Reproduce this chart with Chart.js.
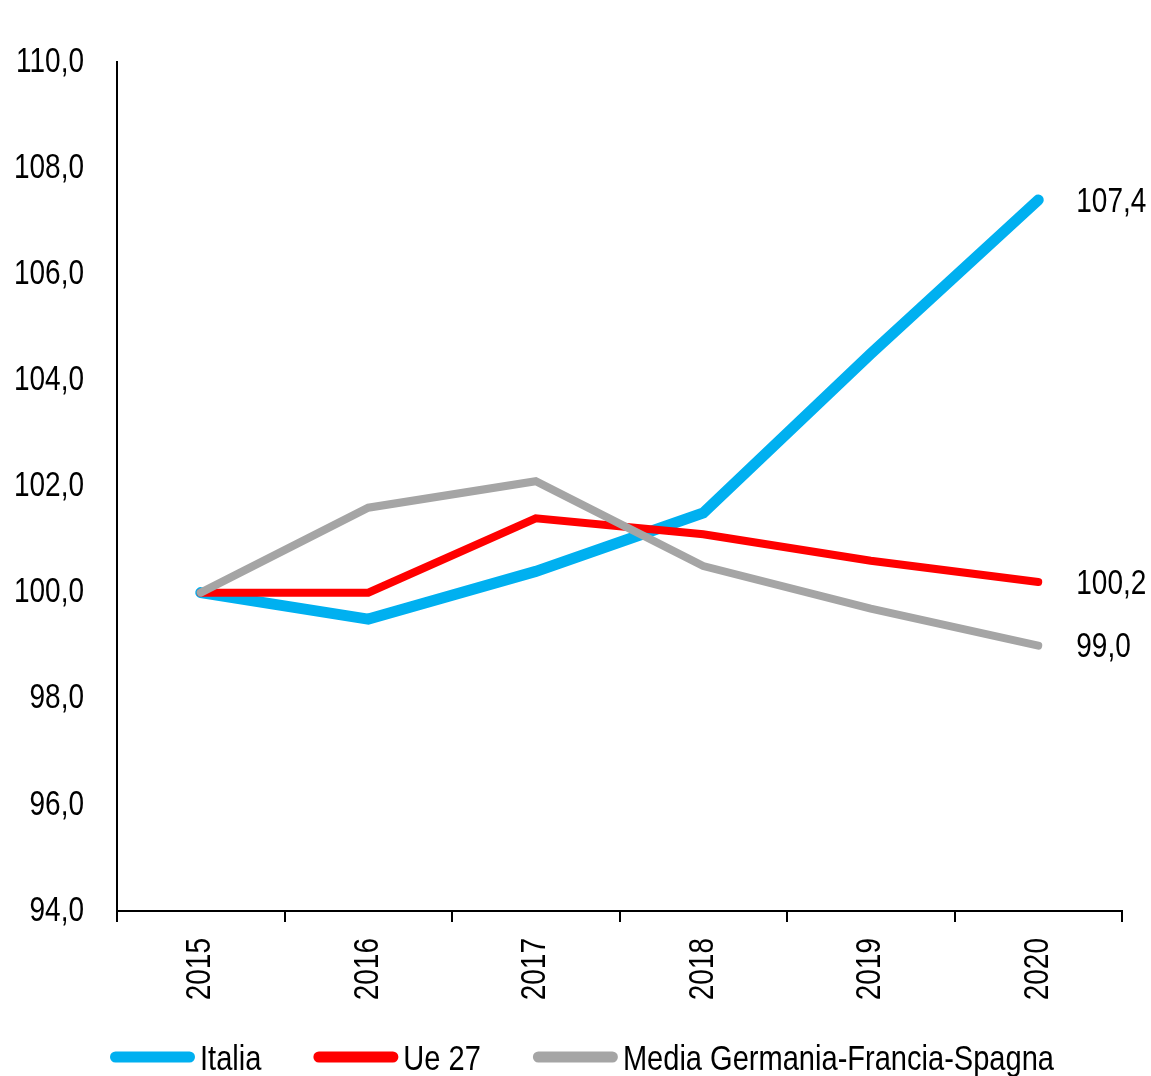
<!DOCTYPE html>
<html>
<head>
<meta charset="utf-8">
<script src="https://cdn.jsdelivr.net/npm/chart.js@4/dist/chart.umd.min.js"></script>
<style>
  html, body { margin: 0; padding: 0; background: #ffffff; }
  #wrap { position: relative; width: 1151px; height: 1076px; }
</style>
</head>
<body>
<div id="wrap"><canvas id="c" width="1151" height="1076"></canvas></div>
<script>
const years = ['2015', '2016', '2017', '2018', '2019', '2020'];
const italia = [100.0, 99.5, 100.4, 101.5, 104.5, 107.4];
const ue27 = [100.0, 100.0, 101.4, 101.1, 100.6, 100.2];
const mediaGFS = [100.0, 101.6, 102.1, 100.5, 99.7, 99.0];
const seriesNames = ['Italia', 'Ue 27', 'Media Germania-Francia-Spagna'];
const yMin = 94, yMax = 110, yStep = 2;

const FONT = "'Liberation Sans', Arial, sans-serif";
const FS = 35;
const fmt = v => v.toFixed(1).replace('.', ',');

// Condensed look (Arial Narrow-like): compress text horizontally along its own baseline
const canvas = document.getElementById('c');
const ctx0 = canvas.getContext('2d');
let textSX = 0.8;
const origFill = ctx0.fillText.bind(ctx0);
ctx0.fillText = function (t, x, y, mw) {
  this.save();
  this.translate(x, y);
  this.scale(textSX, 1);
  if (mw === undefined) origFill(t, 0, 0); else origFill(t, 0, 0, mw / textSX);
  this.restore();
};

const endLabels = {
  id: 'endLabels',
  afterDatasetsDraw(chart) {
    const ctx = chart.ctx;
    ctx.save();
    ctx.font = FS + 'px ' + FONT;
    ctx.fillStyle = '#000';
    ctx.textAlign = 'left';
    ctx.textBaseline = 'middle';
    chart.data.datasets.forEach((ds, i) => {
      const meta = chart.getDatasetMeta(i);
      const last = meta.data[meta.data.length - 1];
      const v = ds.data[ds.data.length - 1];
      ctx.fillText(fmt(v), last.x + 38, last.y + 2);
    });
    ctx.restore();
  }
};

const customLegend = {
  id: 'customLegend',
  afterDraw(chart) {
    const ctx = chart.ctx;
    ctx.save();
    const prevSX = textSX;
    textSX = 0.83;
    ctx.font = FS + 'px ' + FONT;
    const sampleW = 85, gapText = 5, gapItem = 52;
    const items = chart.data.datasets.map(ds => ({
      label: ds.label, color: ds.borderColor,
      w: sampleW + gapText + ctx.measureText(ds.label).width * textSX
    }));
    const total = items.reduce((s, it) => s + it.w, 0) + gapItem * (items.length - 1);
    let x = 582 - total / 2;
    const y = 1057;
    items.forEach(it => {
      ctx.strokeStyle = it.color;
      ctx.lineWidth = 11;
      ctx.lineCap = 'round';
      ctx.beginPath();
      ctx.moveTo(x + 5.5, y);
      ctx.lineTo(x + sampleW - 5.5, y);
      ctx.stroke();
      ctx.fillStyle = '#000';
      ctx.textAlign = 'left';
      ctx.textBaseline = 'middle';
      ctx.fillText(it.label, x + sampleW + gapText, y + 3);
      x += it.w + gapItem;
    });
    textSX = prevSX;
    ctx.restore();
  }
};

new Chart(canvas, {
  type: 'line',
  data: {
    labels: years,
    datasets: [
      { label: seriesNames[0], data: italia, borderColor: '#00B0F0', backgroundColor: '#00B0F0', borderWidth: 11, order: 3 },
      { label: seriesNames[1], data: ue27, borderColor: '#FF0000', backgroundColor: '#FF0000', borderWidth: 8, order: 2 },
      { label: seriesNames[2], data: mediaGFS, borderColor: '#A5A5A5', backgroundColor: '#A5A5A5', borderWidth: 8, order: 1 }
    ]
  },
  options: {
    responsive: false,
    animation: false,
    devicePixelRatio: 1,
    layout: { padding: { top: 62, right: 29, left: 0, bottom: 0 } },
    elements: {
      line: { tension: 0, borderCapStyle: 'round', borderJoinStyle: 'miter', fill: false },
      point: { radius: 0, hoverRadius: 0 }
    },
    plugins: {
      legend: { display: false },
      tooltip: { enabled: false },
      title: { display: false }
    },
    scales: {
      x: {
        offset: true,
        grid: { display: true, drawOnChartArea: false, offset: true, drawTicks: true, tickLength: 11, color: '#000', lineWidth: 2 },
        border: { display: true, color: '#000', width: 2 },
        ticks: { color: '#000', font: { family: FONT, size: FS }, minRotation: 90, maxRotation: 90, padding: 16, autoSkip: false },
        afterFit(scale) { scale.height = 165; }
      },
      y: {
        min: yMin, max: yMax,
        grid: { display: false, drawTicks: false },
        border: { display: true, color: '#000', width: 2 },
        ticks: { stepSize: yStep, color: '#000', font: { family: FONT, size: FS }, padding: 33, callback: v => fmt(v) },
        afterFit(scale) { scale.width = 117; }
      }
    }
  },
  plugins: [endLabels, customLegend]
});
</script>
</body>
</html>
